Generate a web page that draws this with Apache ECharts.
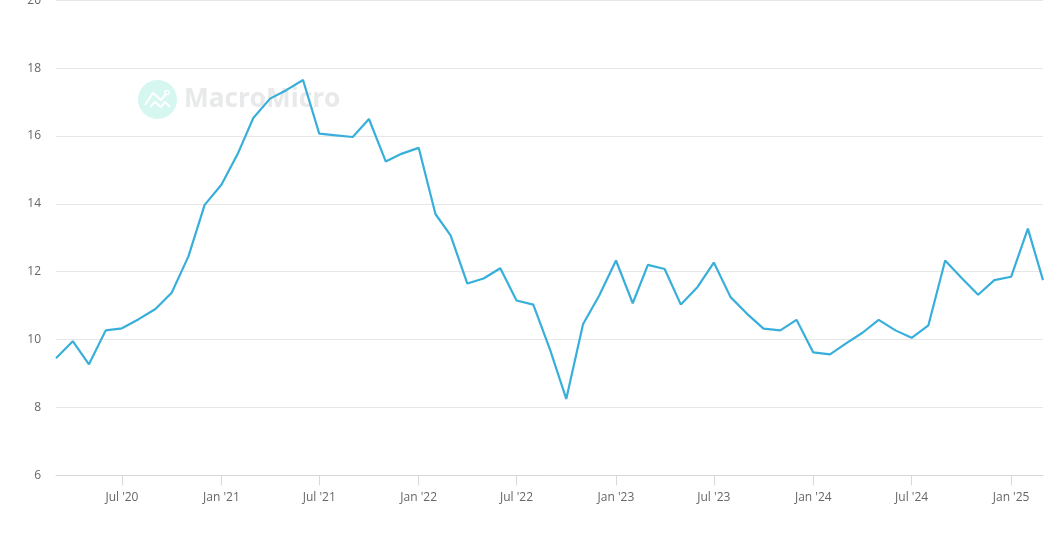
<!DOCTYPE html>
<html>
<head>
<meta charset="utf-8">
<style>
  html, body { margin: 0; padding: 0; background: #fff; }
  #chart { width: 1064px; height: 534px; }
</style>
<script src="https://cdn.jsdelivr.net/npm/echarts@6/dist/echarts.min.js"></script>
</head>
<body>
<div id="chart"></div>
<script>
// monthly, Mar 2020 - Mar 2025
var months = [
  '2020-03-01','2020-04-01','2020-05-01','2020-06-01','2020-07-01','2020-08-01','2020-09-01','2020-10-01','2020-11-01','2020-12-01',
  '2021-01-01','2021-02-01','2021-03-01','2021-04-01','2021-05-01','2021-06-01','2021-07-01','2021-08-01','2021-09-01','2021-10-01','2021-11-01','2021-12-01',
  '2022-01-01','2022-02-01','2022-03-01','2022-04-01','2022-05-01','2022-06-01','2022-07-01','2022-08-01','2022-09-01','2022-10-01','2022-11-01','2022-12-01',
  '2023-01-01','2023-02-01','2023-03-01','2023-04-01','2023-05-01','2023-06-01','2023-07-01','2023-08-01','2023-09-01','2023-10-01','2023-11-01','2023-12-01',
  '2024-01-01','2024-02-01','2024-03-01','2024-04-01','2024-05-01','2024-06-01','2024-07-01','2024-08-01','2024-09-01','2024-10-01','2024-11-01','2024-12-01',
  '2025-01-01','2025-02-01','2025-03-01'
];
var values = [
  9.45,9.95,9.27,10.27,10.33,10.6,10.9,11.38,12.45,13.97,
  14.56,15.5,16.53,17.1,17.35,17.65,16.07,16.02,15.97,16.5,15.25,15.48,
  15.65,13.7,13.07,11.65,11.8,12.1,11.15,11.03,9.7,8.25,10.45,11.3,
  12.33,11.07,12.2,12.08,11.03,11.55,12.27,11.25,10.75,10.32,10.27,10.58,
  9.62,9.56,9.88,10.2,10.58,10.27,10.05,10.42,12.33,11.82,11.32,11.75,
  11.85,13.27,11.75
];
var tickDates = ['2020-07-01','2021-01-01','2021-07-01','2022-01-01','2022-07-01','2023-01-01','2023-07-01','2024-01-01','2024-07-01','2025-01-01'];
var tickLabels = ["Jul '20","Jan '21","Jul '21","Jan '22","Jul '22","Jan '23","Jul '23","Jan '24","Jul '24","Jan '25"];

function toTime(d) {
  return echarts.time.parse(d).getTime();
}

var tickTimes = tickDates.map(toTime);
var myChart = echarts.init(document.getElementById('chart'));

myChart.setOption({
  animation: false,
  backgroundColor: '#fff',
  grid: { left: 56, right: 21, top: 0.25, bottom: 58.75, outerBoundsMode: 'none' },
  xAxis: {
    // time axis breaks on customValues, so plain value axis with timestamps
    type: 'value',
    min: toTime(months[0]),
    max: toTime(months[months.length - 1]),
    axisLine: { lineStyle: { color: '#d8d8d8', width: 1 } },
    axisTick: { customValues: tickTimes, length: 10, lineStyle: { color: '#d8d8d8', width: 1 } },
    axisLabel: {
      customValues: tickTimes,
      margin: 16,
      color: '#666',
      fontFamily: '"Open Sans"',
      fontSize: 12,
      hideOverlap: false,
      formatter: function (v) {
        return tickLabels[tickTimes.indexOf(v)];
      }
    },
    splitLine: { show: false }
  },
  yAxis: {
    type: 'value',
    min: 6,
    max: 20,
    interval: 2,
    axisLine: { show: false },
    axisTick: { show: false },
    axisLabel: {
      margin: 15,
      color: '#666',
      fontFamily: '"Open Sans"',
      fontSize: 12,
      verticalAlignMinLabel: 'middle',
      verticalAlignMaxLabel: 'middle'
    },
    splitLine: { lineStyle: { color: '#e6e6e6', width: 1 } }
  },
  series: [{
    type: 'line',
    data: months.map(function (m, i) { return [toTime(m), values[i]]; }),
    showSymbol: false,
    lineStyle: { color: '#38afda', width: 2.2 },
    itemStyle: { color: '#38afda' },
    z: 5
  }],
  // watermark
  graphic: [
    { type: 'circle', z: 0, shape: { cx: 157.5, cy: 99.5, r: 19.5 }, style: { fill: '#d5f7f0' } },
    { type: 'polyline', z: 0, shape: { points: [[145, 105], [153, 93], [161, 100], [166, 94]] }, style: { stroke: '#fff', lineWidth: 2, fill: null } },
    { type: 'polyline', z: 0, shape: { points: [[150, 107], [155, 102], [161, 107], [165, 102], [170, 107]] }, style: { stroke: '#fff', lineWidth: 2, fill: null } },
    { type: 'circle', z: 0, shape: { cx: 167, cy: 92.5, r: 2 }, style: { fill: '#d5f7f0', stroke: '#fff', lineWidth: 1.5 } },
    { type: 'text', z: 0, style: { x: 184, y: 100, text: 'MacroMicro', fill: '#e8e9ea', font: 'bold 26.2px "Open Sans"', textVerticalAlign: 'middle' } }
  ]
});
</script>
</body>
</html>
